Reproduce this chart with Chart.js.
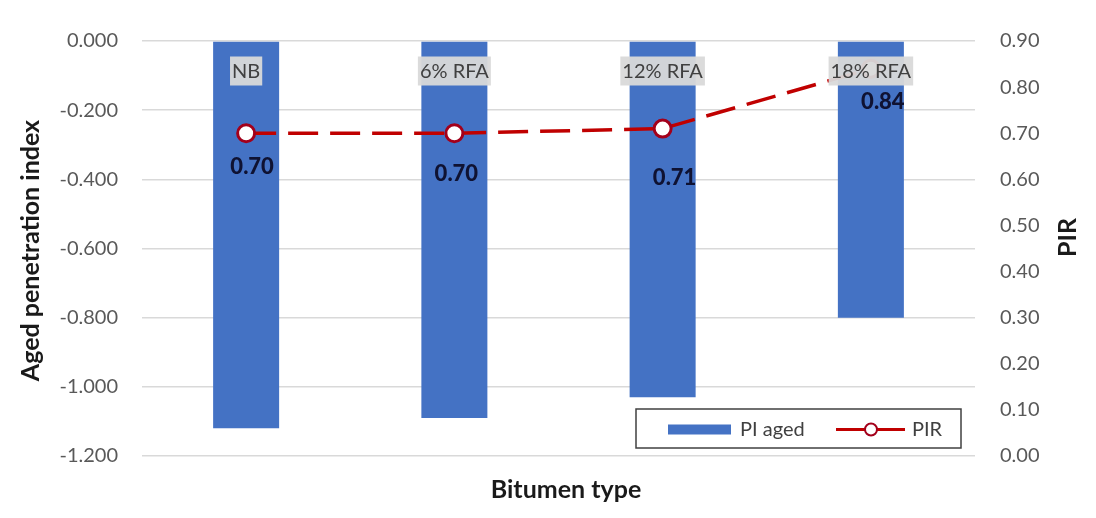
<!DOCTYPE html>
<html>
<head>
<meta charset="utf-8">
<script src="https://cdn.jsdelivr.net/npm/chart.js@4.4.1/dist/chart.umd.min.js"></script>
<style>
  html, body { margin: 0; padding: 0; background: #ffffff; }
  #wrap { width: 1096px; height: 518px; }
</style>
</head>
<body>
<div id="wrap"><canvas id="c" width="1096" height="518"></canvas></div>
<script>
// Bitumen types and measured values
const bitumenTypes = ['NB', '6% RFA', '12% RFA', '18% RFA'];
const piAged = [-1.12, -1.09, -1.03, -0.80];   // aged penetration index (left axis)
const pir = [0.70, 0.70, 0.71, 0.84];          // penetration index ratio (right axis)

const FONT = 'Lato, "Open Sans", sans-serif';
const BAR_BLUE = '#4472c4';
const LINE_RED = '#c00000';
const MARK_RED = '#a3001b';

// Draws the category name boxes, the PIR value labels, the legend and axis titles
const annotations = {
  id: 'annotations',
  afterDatasetsDraw(chart, args, opts) {
    const ctx = chart.ctx;
    const xs = chart.scales.x, ys = chart.scales.y, y1 = chart.scales.y1;
    ctx.save();

    // category names in grey boxes near the bar bases
    ctx.font = '20px ' + FONT;
    ctx.textAlign = 'center';
    ctx.textBaseline = 'middle';
    bitumenTypes.forEach((name, i) => {
      const cx = xs.getPixelForValue(i);
      const cy = ys.getPixelForValue(0) + 30;
      const w = ctx.measureText(name).width + 4;
      const h = 29;
      ctx.fillStyle = 'rgba(217,217,217,0.95)';
      ctx.fillRect(cx - w / 2, cy - h / 2, w, h);
      ctx.fillStyle = '#404040';
      ctx.fillText(name, cx, cy + 1);
    });

    // PIR value labels under each point
    ctx.font = '900 22px ' + FONT;
    ctx.fillStyle = '#0f1232';
    pir.forEach((v, i) => {
      const px = xs.getPixelForValue(i);
      const py = y1.getPixelForValue(v);
      const [dx, dy] = opts.valueOffsets[i];
      ctx.fillText(v.toFixed(2), px + dx, py + dy);
    });

    // legend box inside the plot, bottom right
    const ca = chart.chartArea;
    const lw = 325, lh = 39;
    const lx = ca.right - 14 - lw, ly = ca.bottom - 8 - lh;
    ctx.fillStyle = '#ffffff';
    ctx.fillRect(lx, ly, lw, lh);
    ctx.strokeStyle = '#404040';
    ctx.lineWidth = 1.5;
    ctx.strokeRect(lx, ly, lw, lh);
    const midY = ly + lh / 2 + 1;
    const barDs = chart.data.datasets[0], lineDs = chart.data.datasets[1];
    ctx.fillStyle = barDs.backgroundColor;
    ctx.fillRect(lx + 32, midY - 5, 63, 10);
    ctx.textAlign = 'left';
    ctx.font = '20px ' + FONT;
    ctx.fillStyle = '#404040';
    ctx.fillText(barDs.label, lx + 104, midY);
    ctx.strokeStyle = lineDs.borderColor;
    ctx.lineWidth = 3;
    ctx.beginPath();
    ctx.moveTo(lx + 200, midY);
    ctx.lineTo(lx + 269, midY);
    ctx.stroke();
    ctx.beginPath();
    ctx.arc(lx + 235, midY, 6, 0, Math.PI * 2);
    ctx.fillStyle = '#ffffff';
    ctx.fill();
    ctx.lineWidth = 2;
    ctx.strokeStyle = lineDs.pointBorderColor;
    ctx.stroke();
    ctx.fillStyle = '#404040';
    ctx.fillText(lineDs.label, lx + 276, midY);

    ctx.restore();
  },
  afterDraw(chart) {
    const ctx = chart.ctx;
    const ca = chart.chartArea;
    ctx.save();
    ctx.fillStyle = '#1a1a1a';
    ctx.font = 'bold 25px ' + FONT;
    ctx.textAlign = 'center';
    ctx.textBaseline = 'middle';
    // bottom axis title
    ctx.fillText('Bitumen type', 566, 490);
    // left axis title
    ctx.save();
    ctx.translate(31, (ca.top + ca.bottom) / 2 + 2);
    ctx.rotate(-Math.PI / 2);
    ctx.fillText('Aged penetration index', 0, 0);
    ctx.restore();
    // right axis title
    ctx.save();
    ctx.translate(1068, (ca.top + ca.bottom) / 2 - 11);
    ctx.rotate(-Math.PI / 2);
    ctx.fillText('PIR', 0, 0);
    ctx.restore();
    ctx.restore();
  }
};

new Chart(document.getElementById('c'), {
  data: {
    labels: bitumenTypes,
    datasets: [
      {
        type: 'bar',
        label: 'PI aged',
        data: piAged,
        yAxisID: 'y',
        backgroundColor: BAR_BLUE,
        borderWidth: 0,
        barPercentage: 0.317,
        categoryPercentage: 1.0,
        order: 2
      },
      {
        type: 'line',
        label: 'PIR',
        data: pir,
        yAxisID: 'y1',
        borderColor: LINE_RED,
        borderWidth: 3.5,
        borderDash: [30, 12],
        pointRadius: 8.5,
        pointBorderWidth: 3,
        pointBackgroundColor: '#ffffff',
        pointBorderColor: MARK_RED,
        tension: 0,
        fill: false,
        order: 1
      }
    ]
  },
  options: {
    responsive: false,
    animation: false,
    devicePixelRatio: 1,
    layout: { padding: { top: 41, left: 0, right: 0, bottom: 0 } },
    plugins: {
      legend: { display: false },
      tooltip: { enabled: false },
      annotations: { valueOffsets: [[6, 34], [2, 41], [12, 49], [12, 33]] }
    },
    scales: {
      x: {
        type: 'category',
        offset: true,
        grid: { display: false },
        border: { display: false },
        ticks: { display: false },
        afterFit(s) { s.height = 62; }
      },
      y: {
        position: 'left',
        min: -1.2,
        max: 0,
        border: { display: false },
        grid: { color: '#d9d9d9', lineWidth: 1.5, drawTicks: false },
        ticks: {
          stepSize: 0.2,
          padding: 24,
          color: '#595959',
          font: { family: FONT, size: 20 },
          callback: v => (Math.abs(v) < 1e-9 ? 0 : v).toFixed(3)
        },
        afterFit(s) { s.width = 142; }
      },
      y1: {
        position: 'right',
        min: 0,
        max: 0.9,
        border: { display: false },
        grid: { display: false, drawTicks: false },
        ticks: {
          stepSize: 0.1,
          padding: 25,
          color: '#595959',
          font: { family: FONT, size: 20 },
          callback: v => v.toFixed(2)
        },
        afterFit(s) { s.width = 121; }
      }
    }
  },
  plugins: [annotations]
});
</script>
</body>
</html>
